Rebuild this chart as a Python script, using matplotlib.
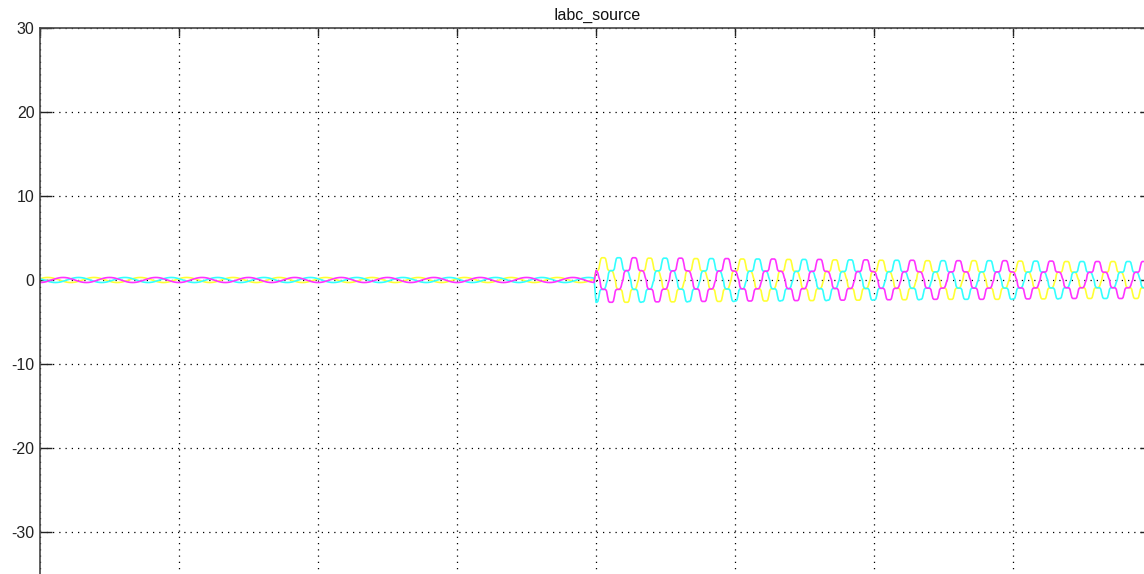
import numpy as np
import matplotlib
matplotlib.use("Agg")
from matplotlib import pyplot as plt

plt.rcParams['font.family'] = ['Liberation Sans', 'DejaVu Sans']
plt.rcParams['axes.unicode_minus'] = False

# scope settings
title = 'Iabc_source'
f_line = 60.0          # Hz, 3 cycles per 0.05 s grid division
t_step = 0.2           # s, load switched in
x_max = 0.4
y_ticks = [-30, -20, -10, 0, 10, 20, 30]
x_ticks = [0, 0.05, 0.1, 0.15, 0.2, 0.25, 0.3, 0.35, 0.4]

# before the step: small sinusoidal current, one cycle sampled every 15 deg
pre_amp = 0.3
pre_cycle = [0.0, 0.26, 0.5, 0.71, 0.87, 0.97, 1.0, 0.97, 0.87, 0.71, 0.5, 0.26,
             0.0, -0.26, -0.5, -0.71, -0.87, -0.97, -1.0, -0.97, -0.87, -0.71, -0.5, -0.26]
pre_cycles = 12

# after the step: stepped rectifier current, half cycle sampled every 7.5 deg
post_half = [0.0, 0.3, 0.4, 0.42, 0.42, 0.42, 0.43, 0.5, 0.75, 0.95, 1.0, 1.0,
             1.0, 1.0, 0.95, 0.75, 0.5, 0.43, 0.42, 0.42, 0.42, 0.4, 0.3, 0.12]
post_amp = [2.65, 2.6, 2.55, 2.5, 2.45, 2.4, 2.35, 2.3, 2.3, 2.25, 2.2, 2.2]

colors = {'a': '#ffff33', 'b': '#ff33ff', 'c': '#33ffff'}


def phase_wave(shift):
    pre = np.roll(np.array(pre_cycle), -(2 + shift * 8))
    pre_y = np.tile(pre, pre_cycles) * pre_amp
    pre_t = np.arange(len(pre_y)) / (len(pre_cycle) * f_line)

    cyc = np.concatenate([post_half, -np.array(post_half)])
    cyc = np.roll(cyc, -(4 - shift * 16))
    post_y = np.concatenate([cyc * a for a in post_amp])
    post_t = t_step + np.arange(len(post_y)) / (len(cyc) * f_line)
    return np.concatenate([pre_t, post_t]), np.concatenate([pre_y, post_y])


fig = plt.figure(figsize=(11.44, 5.74), dpi=100)
ax = fig.add_axes([40 / 1144, -42 / 574, 1112 / 1144, 588 / 574])

for name, shift in [('a', 0), ('c', 2), ('b', 1)]:
    t, y = phase_wave(-shift)
    ax.plot(t, y, color=colors[name], lw=1.2)

ax.set_xlim(0, x_max)
ax.set_ylim(-40, 30)
ax.set_xticks(x_ticks)
ax.set_yticks(y_ticks)
ax.set_xticklabels([])
ax.grid(True, color='black', linestyle=(0, (1, 4)), linewidth=0.9)
ax.tick_params(direction='in', width=1, top=True, right=True,
               labelsize=11.5, colors='#222222')
ax.tick_params(axis='y', length=8.5, pad=4)
ax.tick_params(axis='x', length=6)
for s in ax.spines.values():
    s.set_color('#444444')
    s.set_linewidth(1.2)

fig.text(597 / 1144, 1 - 15 / 574, title, ha='center', va='center', fontsize=11.5, color='#111111')

fig.savefig('out.png', dpi=100)
